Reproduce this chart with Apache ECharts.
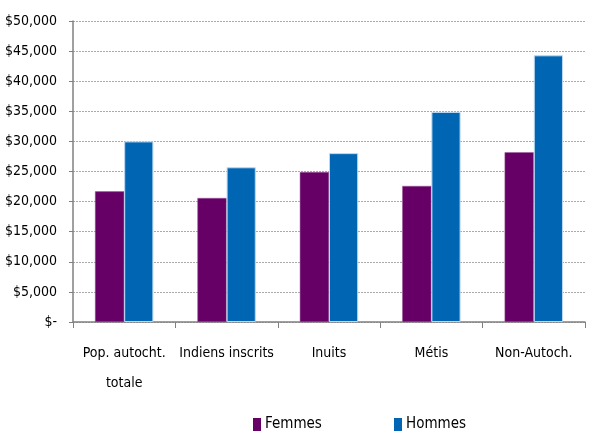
<!DOCTYPE html>
<html><head><meta charset="utf-8">
<script src="https://cdn.jsdelivr.net/npm/echarts@6/dist/echarts.min.js"></script>
<style>html,body{margin:0;padding:0;background:#fff}#c{width:597px;height:431px}</style>
</head><body><div id="c"></div>
<script>
const categories = ['Pop. autocht.\ntotale', 'Indiens inscrits', 'Inuits', 'Métis', 'Non-Autoch.'];
const femmes = [21700, 20600, 24900, 22600, 28200];
const hommes = [30000, 25700, 28050, 34900, 44300];
const FONT = '"DejaVu Sans Condensed", "Liberation Sans Narrow", "Liberation Sans", sans-serif';
const chart = echarts.init(document.getElementById('c'));
chart.setOption({
  animation: false,
  textStyle: { fontFamily: FONT },
  grid: { left: 73, right: 12, top: 21, bottom: 109, outerBoundsMode: 'none', containLabel: false },
  legend: [
    { data: ['Femmes'], left: 248, top: 412, itemWidth: 8, itemHeight: 13, itemGap: 4,
      icon: 'rect', itemStyle: { borderWidth: 0 }, textStyle: { fontFamily: FONT, fontSize: 15, color: '#000', padding: [0,0,0,-1] } },
    { data: ['Hommes'], left: 389, top: 412, itemWidth: 8, itemHeight: 13, itemGap: 4,
      icon: 'rect', itemStyle: { borderWidth: 0 }, textStyle: { fontFamily: FONT, fontSize: 15, color: '#000', padding: [0,0,0,-1] } }
  ],
  xAxis: {
    type: 'category', data: categories,
    axisLine: { lineStyle: { color: '#808080', width: 1.5 } },
    axisTick: { show: true, length: 6, lineStyle: { color: '#808080' } },
    axisLabel: { fontFamily: FONT, fontSize: 14, color: '#000', margin: 16, lineHeight: 30, interval: 0 }
  },
  yAxis: {
    type: 'value', min: 0, max: 50000, interval: 5000,
    axisLine: { show: true, lineStyle: { color: '#808080', width: 1.5 } },
    axisTick: { show: true, length: 4, lineStyle: { color: '#808080' } },
    splitLine: { lineStyle: { color: '#aaaaaa', type: [2, 1], width: 1 } },
    axisLabel: { fontFamily: FONT, fontSize: 14, color: '#000', margin: 16,
      formatter: v => v === 0 ? '$-' : '$' + v.toLocaleString('en-US') }
  },
  series: [
    { name: 'Femmes', type: 'bar', data: femmes, barGap: '0%', barCategoryGap: '43%',
      itemStyle: { color: '#660066', borderColor: '#9a5a9a', borderWidth: 0.5 } },
    { name: 'Hommes', type: 'bar', data: hommes,
      itemStyle: { color: '#0066B3', borderColor: '#bcd8f0', borderWidth: 1 } }
  ]
});
</script></body></html>
